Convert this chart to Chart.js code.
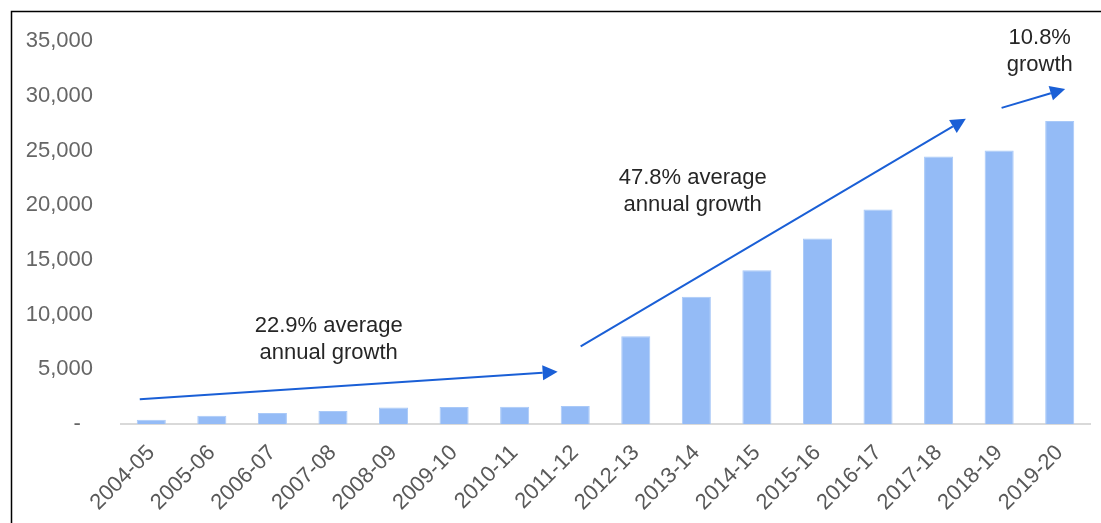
<!DOCTYPE html>
<html>
<head>
<meta charset="utf-8">
<script src="https://cdn.jsdelivr.net/npm/chart.js@4"></script>
<style>
  html, body { margin: 0; padding: 0; background: #fff; }
  #wrap { position: relative; width: 1101px; height: 523px; }
</style>
</head>
<body>
<div id="wrap"><canvas id="chart" width="1101" height="523"></canvas></div>
<script>
const years = ["2004-05", "2005-06", "2006-07", "2007-08", "2008-09", "2009-10", "2010-11", "2011-12",
  "2012-13", "2013-14", "2014-15", "2015-16", "2016-17", "2017-18", "2018-19", "2019-20"];
const values = [400, 750, 1000, 1180, 1520, 1550, 1570, 1640,
  8030, 11640, 14050, 16970, 19620, 24450, 25000, 27700];

// growth arrows: [x index, value] start -> end
const arrows = [
  [[-0.19, 2270], [6.71, 4770]],
  [[7.09, 7090], [13.45, 27900]],
  [[14.04, 28900], [15.09, 30640]],
];
const notes = [
  { x: 2.93, y: 9000, lines: ["22.9% average", "annual growth"] },
  { x: 8.94, y: 22480, lines: ["47.8% average", "annual growth"] },
  { x: 14.67, y: 35300, lines: ["10.8%", "growth"] },
];

const FONT = "'Liberation Sans', Arial, sans-serif";

const extras = {
  id: "extras",
  beforeDraw(chart) {
    const ctx = chart.ctx;
    ctx.save();
    ctx.strokeStyle = "#000";
    ctx.lineWidth = 1.5;
    ctx.beginPath();
    ctx.moveTo(11.5, 523);
    ctx.lineTo(11.5, 11.5);
    ctx.lineTo(1101, 11.5);
    ctx.stroke();
    ctx.restore();
  },
  afterDraw(chart) {
    const ctx = chart.ctx;
    const xs = chart.scales.x, ys = chart.scales.y;
    ctx.save();
    ctx.strokeStyle = "#1a5fd6";
    ctx.fillStyle = "#1a5fd6";
    ctx.lineWidth = 2;
    arrows.forEach(([a, b]) => {
      const x1 = xs.getPixelForValue(a[0]), y1 = ys.getPixelForValue(a[1]);
      const x2 = xs.getPixelForValue(b[0]), y2 = ys.getPixelForValue(b[1]);
      const ang = Math.atan2(y2 - y1, x2 - x1);
      const len = 15, half = 7.5;
      const bx = x2 - len * Math.cos(ang), by = y2 - len * Math.sin(ang);
      ctx.beginPath();
      ctx.moveTo(x1, y1);
      ctx.lineTo(bx, by);
      ctx.stroke();
      ctx.beginPath();
      ctx.moveTo(x2, y2);
      ctx.lineTo(bx + half * Math.sin(ang), by - half * Math.cos(ang));
      ctx.lineTo(bx - half * Math.sin(ang), by + half * Math.cos(ang));
      ctx.closePath();
      ctx.fill();
    });
    ctx.fillStyle = "#262626";
    ctx.font = "22px " + FONT;
    ctx.textAlign = "center";
    ctx.textBaseline = "middle";
    notes.forEach(n => {
      const px = xs.getPixelForValue(n.x), py = ys.getPixelForValue(n.y);
      n.lines.forEach((t, i) => ctx.fillText(t, px, py + i * 27));
    });
    ctx.restore();
  }
};

new Chart(document.getElementById("chart"), {
  type: "bar",
  data: {
    labels: years,
    datasets: [{
      data: values,
      backgroundColor: "#94bbf6",
      borderColor: "#a9c9f8",
      borderWidth: 1,
      barPercentage: 0.48,
      categoryPercentage: 1,
    }],
  },
  options: {
    responsive: false,
    animation: false,
    layout: { padding: { top: 39, right: 11, left: 0, bottom: 0 } },
    scales: {
      x: {
        grid: { display: false, drawTicks: false },
        border: { display: true, color: "#d9d9d9", width: 2 },
        ticks: {
          color: "#595959",
          font: { size: 22, family: FONT },
          minRotation: 45,
          maxRotation: 45,
          padding: 16,
        },
        afterFit: (s) => { s.height = 99; },
      },
      y: {
        min: 0,
        max: 35000,
        grid: { display: false, drawTicks: false },
        border: { display: false },
        ticks: {
          stepSize: 5000,
          color: "#666",
          padding: 28,
          font: { size: 22, family: FONT },
          callback: (v) => v === 0 ? "-  " : v.toLocaleString("en-US"),
        },
        afterFit: (s) => { s.width = 121; },
      },
    },
    plugins: {
      legend: { display: false },
      tooltip: { enabled: false },
    },
  },
  plugins: [extras],
});
</script>
</body>
</html>
